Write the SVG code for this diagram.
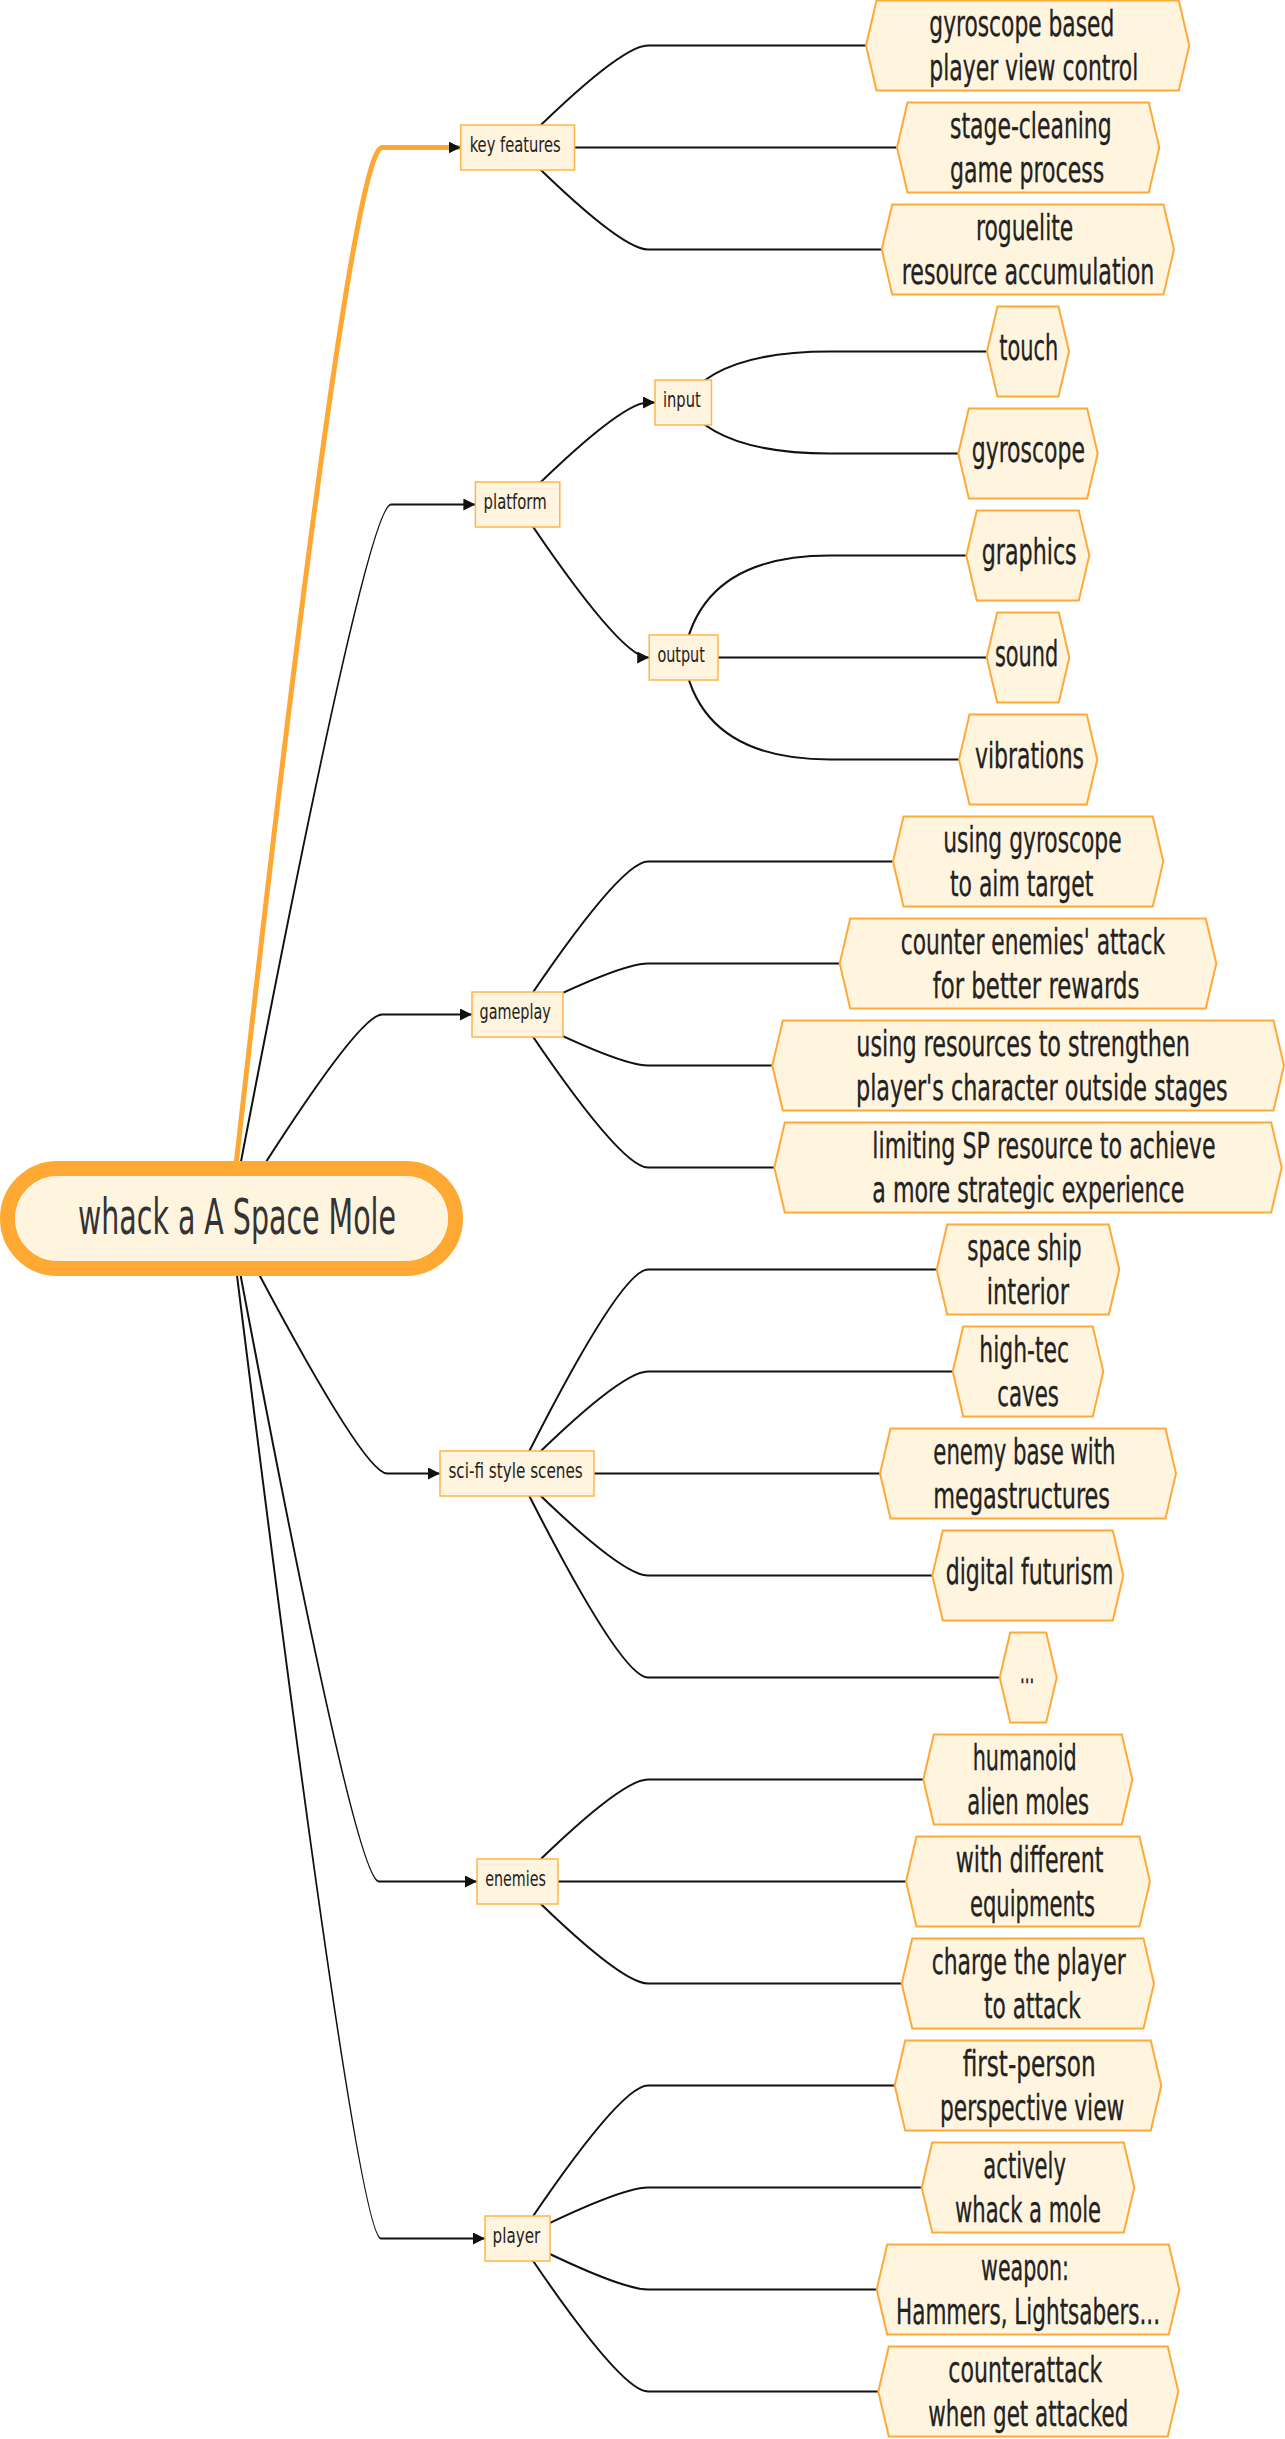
<svg xmlns="http://www.w3.org/2000/svg" width="1285" height="2439" viewBox="0 0 1285 2439">
<defs>
<marker id="arr" markerUnits="userSpaceOnUse" markerWidth="13" markerHeight="13" refX="12" refY="6" orient="auto"><path d="M0,0 L12,6 L0,12 z" fill="#111"/></marker>
<style>
text{font-family:"DejaVu Sans Condensed","DejaVu Sans",sans-serif;font-stretch:condensed;fill:#222}
.lt{font-size:35px;stroke:#222;stroke-width:0.3}
.bt{font-size:22px}
.rt{font-size:50px;fill:#333}
.leaf polygon{fill:#FFF4DE;stroke:#FFA938;stroke-width:2}
.box rect{fill:#FFF4DE;stroke:#FFB54A;stroke-width:1.5}
.edge{fill:none;stroke:#111;stroke-width:2}
.redge{fill:none;stroke:#111;stroke-width:2}
.orange{fill:none;stroke:#FFA733;stroke-width:5}
</style>
</defs>
<rect width="1285" height="2439" fill="#FFFFFF"/>
<g id="connectors">
<path class="orange" d="M230,1219 Q349,147.5 382,147.5 L460.7,147.5" marker-end="url(#arr)"/>
<path class="redge" d="M230,1219 Q366,504.5 391,504.5 L475.4,504.5" marker-end="url(#arr)"/>
<path class="redge" d="M230,1219 Q357,1014.5 382,1014.5 L472,1014.5" marker-end="url(#arr)"/>
<path class="redge" d="M230,1219 Q362,1473.5 387,1473.5 L440,1473.5" marker-end="url(#arr)"/>
<path class="redge" d="M230,1219 Q354,1881.5 379,1881.5 L477,1881.5" marker-end="url(#arr)"/>
<path class="redge" d="M230,1219 Q356,2238.5 381,2238.5 L485,2238.5" marker-end="url(#arr)"/>
<path class="edge" d="M518,147.5 Q620,45.5 648,45.5 L866,45.5"/>
<path class="edge" d="M574.6,147.5 L897,147.5"/>
<path class="edge" d="M518,147.5 Q620,249.5 648,249.5 L881.7,249.5"/>
<path class="edge" d="M518,504.5 Q620,402.5 648,402.5 L655,402.5" marker-end="url(#arr)"/>
<path class="edge" d="M518,504.5 Q620,657.5 648,657.5 L649.2,657.5" marker-end="url(#arr)"/>
<path class="edge" d="M683.5,402.5 Q716,351.5 830,351.5 L987,351.5"/>
<path class="edge" d="M683.5,402.5 Q716,453.5 830,453.5 L958.3,453.5"/>
<path class="edge" d="M683.5,657.5 Q700,555.5 830,555.5 L966.3,555.5"/>
<path class="edge" d="M718,657.5 L986.7,657.5"/>
<path class="edge" d="M683.5,657.5 Q700,759.5 830,759.5 L959,759.5"/>
<path class="edge" d="M518,1014.5 Q620,861.5 648,861.5 L893,861.5"/>
<path class="edge" d="M518,1014.5 Q620,963.5 648,963.5 L839.7,963.5"/>
<path class="edge" d="M518,1014.5 Q620,1065.5 648,1065.5 L772.3,1065.5"/>
<path class="edge" d="M518,1014.5 Q620,1167.5 648,1167.5 L774.3,1167.5"/>
<path class="edge" d="M518,1473.5 Q620,1269.5 648,1269.5 L936.7,1269.5"/>
<path class="edge" d="M518,1473.5 Q620,1371.5 648,1371.5 L952.7,1371.5"/>
<path class="edge" d="M594,1473.5 L880,1473.5"/>
<path class="edge" d="M518,1473.5 Q620,1575.5 648,1575.5 L932.3,1575.5"/>
<path class="edge" d="M518,1473.5 Q620,1677.5 648,1677.5 L999.7,1677.5"/>
<path class="edge" d="M518,1881.5 Q620,1779.5 648,1779.5 L923.3,1779.5"/>
<path class="edge" d="M558,1881.5 L906,1881.5"/>
<path class="edge" d="M518,1881.5 Q620,1983.5 648,1983.5 L901.7,1983.5"/>
<path class="edge" d="M518,2238.5 Q620,2085.5 648,2085.5 L894.7,2085.5"/>
<path class="edge" d="M518,2238.5 Q620,2187.5 648,2187.5 L921.7,2187.5"/>
<path class="edge" d="M518,2238.5 Q620,2289.5 648,2289.5 L876.7,2289.5"/>
<path class="edge" d="M518,2238.5 Q620,2391.5 648,2391.5 L878.3,2391.5"/>
</g>
<g id="root">
<rect x="7.5" y="1168.5" width="448" height="100" rx="50" ry="50" fill="#FFF4DE" stroke="#FFA833" stroke-width="15"/>
<rect x="15.5" y="1176.5" width="432" height="84" rx="42" ry="42" fill="none" stroke="#FFF8EA" stroke-width="1"/>
<text class="rt" x="78" y="1234" textLength="318" lengthAdjust="spacingAndGlyphs">whack a A Space Mole</text>
</g>
<g id="key-features" class="box"><rect x="460.7" y="125" width="113.9" height="45"/><text class="bt" x="469.7" y="151.5" textLength="91" lengthAdjust="spacingAndGlyphs">key features</text></g>
<g id="platform" class="box"><rect x="475.4" y="482" width="84.4" height="45"/><text class="bt" x="483.6" y="508.5" textLength="63" lengthAdjust="spacingAndGlyphs">platform</text></g>
<g id="input" class="box"><rect x="655" y="380" width="56.5" height="45"/><text class="bt" x="663" y="406.5" textLength="37.7" lengthAdjust="spacingAndGlyphs">input</text></g>
<g id="output" class="box"><rect x="649.2" y="635" width="68.8" height="45"/><text class="bt" x="657.4" y="661.5" textLength="47.5" lengthAdjust="spacingAndGlyphs">output</text></g>
<g id="gameplay" class="box"><rect x="472" y="992" width="91" height="45"/><text class="bt" x="479.5" y="1018.5" textLength="71.3" lengthAdjust="spacingAndGlyphs">gameplay</text></g>
<g id="sci-fi" class="box"><rect x="440" y="1451" width="154" height="45"/><text class="bt" x="448.4" y="1477.5" textLength="134.4" lengthAdjust="spacingAndGlyphs">sci-fi style scenes</text></g>
<g id="enemies" class="box"><rect x="477" y="1859" width="81" height="45"/><text class="bt" x="485.2" y="1885.5" textLength="60.7" lengthAdjust="spacingAndGlyphs">enemies</text></g>
<g id="player" class="box"><rect x="485" y="2216" width="65" height="45"/><text class="bt" x="492.6" y="2242.5" textLength="47.6" lengthAdjust="spacingAndGlyphs">player</text></g>
<g id="leaf-0" class="leaf"><polygon points="866,45.5 876.5,0.5 1178.8,0.5 1189.3,45.5 1178.8,90.5 876.5,90.5"/><text class="lt" x="929.3" y="35.5" textLength="185" lengthAdjust="spacingAndGlyphs">gyroscope based</text><text class="lt" x="929.3" y="79.5" textLength="209" lengthAdjust="spacingAndGlyphs">player view control</text></g>
<g id="leaf-1" class="leaf"><polygon points="897,147.5 907.5,102.5 1148.8,102.5 1159.3,147.5 1148.8,192.5 907.5,192.5"/><text class="lt" x="950" y="137.5" textLength="161.7" lengthAdjust="spacingAndGlyphs">stage-cleaning</text><text class="lt" x="950" y="181.5" textLength="154.3" lengthAdjust="spacingAndGlyphs">game process</text></g>
<g id="leaf-2" class="leaf"><polygon points="881.7,249.5 892.2,204.5 1163.5,204.5 1174,249.5 1163.5,294.5 892.2,294.5"/><text class="lt" x="976" y="239.5" textLength="97.3" lengthAdjust="spacingAndGlyphs">roguelite</text><text class="lt" x="901.7" y="283.5" textLength="252.7" lengthAdjust="spacingAndGlyphs">resource accumulation</text></g>
<g id="leaf-3" class="leaf"><polygon points="987,351.5 997.5,306.5 1058.5,306.5 1069,351.5 1058.5,396.5 997.5,396.5"/><text class="lt" x="999.3" y="359.5" textLength="59" lengthAdjust="spacingAndGlyphs">touch</text></g>
<g id="leaf-4" class="leaf"><polygon points="958.3,453.5 968.8,408.5 1087.2,408.5 1097.7,453.5 1087.2,498.5 968.8,498.5"/><text class="lt" x="971.7" y="461.5" textLength="113.3" lengthAdjust="spacingAndGlyphs">gyroscope</text></g>
<g id="leaf-5" class="leaf"><polygon points="966.3,555.5 976.8,510.5 1078.8,510.5 1089.3,555.5 1078.8,600.5 976.8,600.5"/><text class="lt" x="981.7" y="563.5" textLength="95" lengthAdjust="spacingAndGlyphs">graphics</text></g>
<g id="leaf-6" class="leaf"><polygon points="986.7,657.5 997.2,612.5 1058.8,612.5 1069.3,657.5 1058.8,702.5 997.2,702.5"/><text class="lt" x="995" y="665.5" textLength="63.3" lengthAdjust="spacingAndGlyphs">sound</text></g>
<g id="leaf-7" class="leaf"><polygon points="959,759.5 969.5,714.5 1086.8,714.5 1097.3,759.5 1086.8,804.5 969.5,804.5"/><text class="lt" x="975" y="767.5" textLength="109" lengthAdjust="spacingAndGlyphs">vibrations</text></g>
<g id="leaf-8" class="leaf"><polygon points="893,861.5 903.5,816.5 1152.8,816.5 1163.3,861.5 1152.8,906.5 903.5,906.5"/><text class="lt" x="943.3" y="851.5" textLength="178.3" lengthAdjust="spacingAndGlyphs">using gyroscope</text><text class="lt" x="950" y="895.5" textLength="143.3" lengthAdjust="spacingAndGlyphs">to aim target</text></g>
<g id="leaf-9" class="leaf"><polygon points="839.7,963.5 850.2,918.5 1205.8,918.5 1216.3,963.5 1205.8,1008.5 850.2,1008.5"/><text class="lt" x="900.7" y="953.5" textLength="264.3" lengthAdjust="spacingAndGlyphs">counter enemies' attack</text><text class="lt" x="932.7" y="997.5" textLength="206.7" lengthAdjust="spacingAndGlyphs">for better rewards</text></g>
<g id="leaf-10" class="leaf"><polygon points="772.3,1065.5 782.8,1020.5 1273.5,1020.5 1284,1065.5 1273.5,1110.5 782.8,1110.5"/><text class="lt" x="856.3" y="1055.5" textLength="333.5" lengthAdjust="spacingAndGlyphs">using resources to strengthen</text><text class="lt" x="856" y="1099.5" textLength="371.7" lengthAdjust="spacingAndGlyphs">player's character outside stages</text></g>
<g id="leaf-11" class="leaf"><polygon points="774.3,1167.5 784.8,1122.5 1271.2,1122.5 1281.7,1167.5 1271.2,1212.5 784.8,1212.5"/><text class="lt" x="872.3" y="1157.5" textLength="343.3" lengthAdjust="spacingAndGlyphs">limiting SP resource to achieve</text><text class="lt" x="872.3" y="1201.5" textLength="312" lengthAdjust="spacingAndGlyphs">a more strategic experience</text></g>
<g id="leaf-12" class="leaf"><polygon points="936.7,1269.5 947.2,1224.5 1108.8,1224.5 1119.3,1269.5 1108.8,1314.5 947.2,1314.5"/><text class="lt" x="967.3" y="1259.5" textLength="114.3" lengthAdjust="spacingAndGlyphs">space ship</text><text class="lt" x="986.7" y="1303.5" textLength="82.3" lengthAdjust="spacingAndGlyphs">interior</text></g>
<g id="leaf-13" class="leaf"><polygon points="952.7,1371.5 963.2,1326.5 1092.8,1326.5 1103.3,1371.5 1092.8,1416.5 963.2,1416.5"/><text class="lt" x="979.3" y="1361.5" textLength="89.7" lengthAdjust="spacingAndGlyphs">high-tec</text><text class="lt" x="997.3" y="1405.5" textLength="61.7" lengthAdjust="spacingAndGlyphs">caves</text></g>
<g id="leaf-14" class="leaf"><polygon points="880,1473.5 890.5,1428.5 1165.5,1428.5 1176,1473.5 1165.5,1518.5 890.5,1518.5"/><text class="lt" x="933.3" y="1463.5" textLength="182.3" lengthAdjust="spacingAndGlyphs">enemy base with</text><text class="lt" x="933.3" y="1507.5" textLength="176.7" lengthAdjust="spacingAndGlyphs">megastructures</text></g>
<g id="leaf-15" class="leaf"><polygon points="932.3,1575.5 942.8,1530.5 1112.8,1530.5 1123.3,1575.5 1112.8,1620.5 942.8,1620.5"/><text class="lt" x="945.7" y="1583.5" textLength="167.7" lengthAdjust="spacingAndGlyphs">digital futurism</text></g>
<g id="leaf-16" class="leaf"><polygon points="999.7,1677.5 1010.2,1632.5 1046.2,1632.5 1056.7,1677.5 1046.2,1722.5 1010.2,1722.5"/><text class="lt" x="1020" y="1682.5" textLength="14.3" lengthAdjust="spacingAndGlyphs">...</text></g>
<g id="leaf-17" class="leaf"><polygon points="923.3,1779.5 933.8,1734.5 1121.8,1734.5 1132.3,1779.5 1121.8,1824.5 933.8,1824.5"/><text class="lt" x="972.7" y="1769.5" textLength="104" lengthAdjust="spacingAndGlyphs">humanoid</text><text class="lt" x="967.3" y="1813.5" textLength="121.7" lengthAdjust="spacingAndGlyphs">alien moles</text></g>
<g id="leaf-18" class="leaf"><polygon points="906,1881.5 916.5,1836.5 1139.5,1836.5 1150,1881.5 1139.5,1926.5 916.5,1926.5"/><text class="lt" x="955.7" y="1871.5" textLength="147.7" lengthAdjust="spacingAndGlyphs">with different</text><text class="lt" x="970" y="1915.5" textLength="125" lengthAdjust="spacingAndGlyphs">equipments</text></g>
<g id="leaf-19" class="leaf"><polygon points="901.7,1983.5 912.2,1938.5 1143.5,1938.5 1154,1983.5 1143.5,2028.5 912.2,2028.5"/><text class="lt" x="931.7" y="1973.5" textLength="194" lengthAdjust="spacingAndGlyphs">charge the player</text><text class="lt" x="984" y="2017.5" textLength="96.7" lengthAdjust="spacingAndGlyphs">to attack</text></g>
<g id="leaf-20" class="leaf"><polygon points="894.7,2085.5 905.2,2040.5 1150.8,2040.5 1161.3,2085.5 1150.8,2130.5 905.2,2130.5"/><text class="lt" x="962.7" y="2075.5" textLength="133" lengthAdjust="spacingAndGlyphs">first-person</text><text class="lt" x="940" y="2119.5" textLength="184.3" lengthAdjust="spacingAndGlyphs">perspective view</text></g>
<g id="leaf-21" class="leaf"><polygon points="921.7,2187.5 932.2,2142.5 1123.8,2142.5 1134.3,2187.5 1123.8,2232.5 932.2,2232.5"/><text class="lt" x="983.3" y="2177.5" textLength="82.7" lengthAdjust="spacingAndGlyphs">actively</text><text class="lt" x="955" y="2221.5" textLength="146" lengthAdjust="spacingAndGlyphs">whack a mole</text></g>
<g id="leaf-22" class="leaf"><polygon points="876.7,2289.5 887.2,2244.5 1168.8,2244.5 1179.3,2289.5 1168.8,2334.5 887.2,2334.5"/><text class="lt" x="981" y="2279.5" textLength="88" lengthAdjust="spacingAndGlyphs">weapon:</text><text class="lt" x="896" y="2323.5" textLength="264" lengthAdjust="spacingAndGlyphs">Hammers, Lightsabers...</text></g>
<g id="leaf-23" class="leaf"><polygon points="878.3,2391.5 888.8,2346.5 1167.8,2346.5 1178.3,2391.5 1167.8,2436.5 888.8,2436.5"/><text class="lt" x="948.3" y="2381.5" textLength="154" lengthAdjust="spacingAndGlyphs">counterattack</text><text class="lt" x="928.3" y="2425.5" textLength="200" lengthAdjust="spacingAndGlyphs">when get attacked</text></g>
</svg>
